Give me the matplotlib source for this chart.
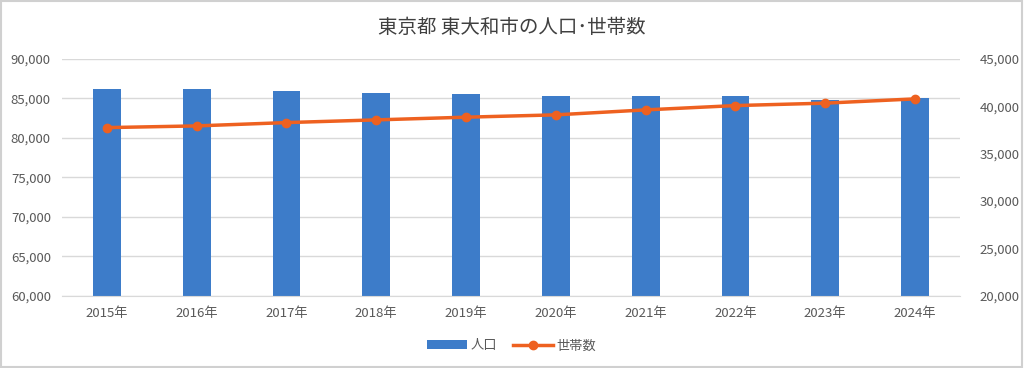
import matplotlib
matplotlib.use("Agg")
import matplotlib.pyplot as plt
from matplotlib.ticker import FuncFormatter
from matplotlib.patches import Rectangle

plt.rcParams['font.family'] = ['Noto Sans CJK JP', 'DejaVu Sans']

years = ["2015年", "2016年", "2017年", "2018年", "2019年",
         "2020年", "2021年", "2022年", "2023年", "2024年"]
population = [86145, 86140, 85930, 85710, 85550, 85295, 85290, 85290, 84785, 85075]
households = [37750, 37930, 38280, 38565, 38850, 39095, 39620, 40075, 40330, 40780]

bar_color = "#3D7CC9"
line_color = "#EE6120"
txt = "#595959"

fig = plt.figure(figsize=(10.24, 3.68), dpi=100)
ax = fig.add_axes([0.0605, 0.196, 0.877, 0.644])
ax2 = ax.twinx()

x = list(range(len(years)))
bars = ax.bar(x, population, width=0.31, color=bar_color, zorder=2, label="人口")
ln, = ax2.plot(x, households, color=line_color, lw=2.5, marker="o", ms=6,
               zorder=3, label="世帯数")

ax.set_xlim(-0.5, len(years) - 0.5)
ax.set_ylim(60000, 90000)
ax.set_yticks(range(60000, 90001, 5000))
ax2.set_ylim(20000, 45000)
ax2.set_yticks(range(20000, 45001, 5000))
fmt = FuncFormatter(lambda v, p: f"{int(v):,}")
ax.yaxis.set_major_formatter(fmt)
ax2.yaxis.set_major_formatter(fmt)
ax.set_xticks(x)
ax.set_xticklabels(years)

ax.grid(axis="y", color="#D9D9D9", lw=1, zorder=0)
ax.set_axisbelow(True)
for a in (ax, ax2):
    for s in a.spines.values():
        s.set_visible(False)
    a.tick_params(length=0, labelsize=9.5, colors=txt)
ax.spines["bottom"].set_visible(True)
ax.spines["bottom"].set_color("#D9D9D9")
ax.tick_params(axis="x", pad=8)
ax.tick_params(axis="y", pad=8)
ax2.tick_params(axis="y", pad=14)

fig.suptitle("東京都 東大和市の人口･世帯数", y=0.955, fontsize=14, color="#404040")
fig.legend([bars, ln], ["人口", "世帯数"], loc="center", bbox_to_anchor=(0.5, 0.06),
           ncol=2, frameon=False, fontsize=9.5, labelcolor=txt,
           handlelength=3, columnspacing=1.2, handletextpad=0.3)

fig.patches.append(Rectangle((0.001, 0.002), 0.997, 0.995, transform=fig.transFigure,
                             fill=False, edgecolor="#D0D0D0", lw=1.5))
fig.savefig("out.png", dpi=100)
